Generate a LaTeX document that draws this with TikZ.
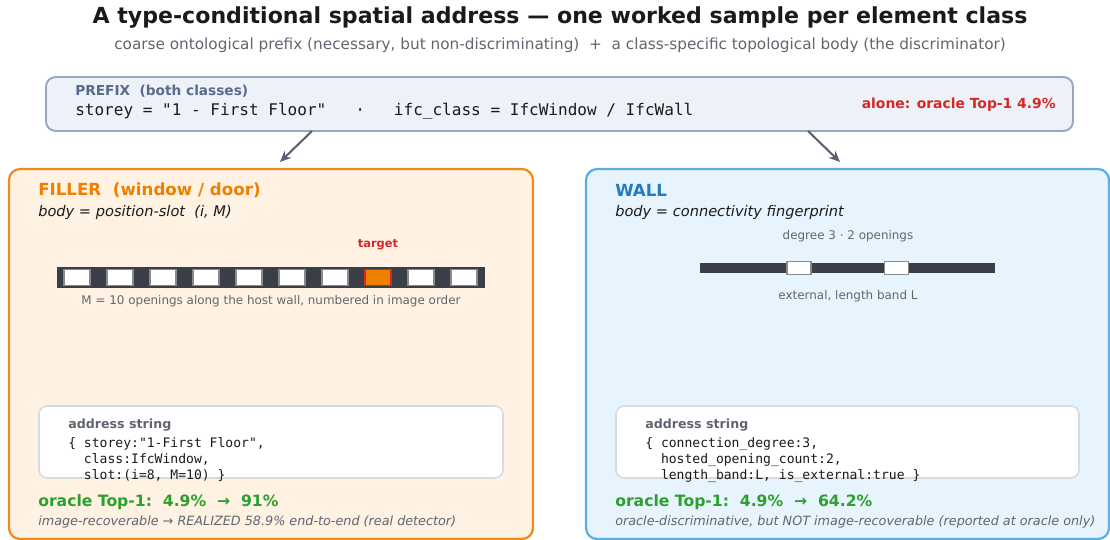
\documentclass[tikz,border=0pt]{standalone}
\usepackage{fontspec}
\setmainfont{DejaVu Sans}
\setmonofont{DejaVu Sans Mono}
\usetikzlibrary{arrows.meta}
\definecolor{inkdark}{HTML}{1A1A1A}
\definecolor{inkgray}{HTML}{5F6670}
\definecolor{prefixfill}{HTML}{EDF1F8}
\definecolor{prefixline}{HTML}{9AA6BB}
\definecolor{prefixtext}{HTML}{5A6A8A}
\definecolor{alertred}{HTML}{D62728}
\definecolor{arrowgray}{HTML}{5A6270}
\definecolor{fillerorange}{HTML}{F07F00}
\definecolor{fillerline}{HTML}{F08A1C}
\definecolor{fillerfill}{HTML}{FFF2E3}
\definecolor{wallblue}{HTML}{1F7BC4}
\definecolor{wallline}{HTML}{5AB0E4}
\definecolor{wallfill}{HTML}{E8F4FD}
\definecolor{walldark}{HTML}{3A3E46}
\definecolor{slotline}{HTML}{8A8A8A}
\definecolor{addrline}{HTML}{D5DBE3}
\definecolor{goodgreen}{HTML}{2CA02C}
\tikzset{txt/.style={inner sep=0pt, anchor=west}}
\tikzset{opening/.style={rectangle, draw=slotline, fill=white, line width=1.3pt, inner sep=0pt, minimum width=19pt, minimum height=11.5pt}}
\tikzset{ropening/.style={rectangle, draw=slotline, fill=white, line width=1pt, inner sep=0pt, minimum width=17.5pt, minimum height=9.5pt}}
\tikzset{addrbox/.style={draw=addrline, fill=white, line width=1.1pt, rounded corners=6pt}}
\tikzset{flow/.style={draw=arrowgray, line width=1.5pt, -{Stealth[length=8pt,width=7pt]}}}
\newcommand{\fs}[1]{\fontsize{#1}{1.2\dimexpr#1pt\relax}\selectfont}
\newcommand{\ind}{\phantom{xx}}

\begin{document}
\begin{tikzpicture}[x=0.72pt, y=-0.72pt]
        \useasboundingbox (0,0) rectangle (1110,540);

        % heading
        \node [txt, anchor=center, text=inkdark, font=\fs{15.9}\bfseries](title) at (560,17) {A type-conditional spatial address — one worked sample per element class};
        \node [txt, anchor=center, text=inkgray, font=\fs{11}](subtitle) at (560,45) {coarse ontological prefix (necessary, but non-discriminating)~~+~~a class-specific topological body (the discriminator)};

        % shared prefix
        \draw [fill=prefixfill, draw=prefixline, line width=1.4pt, rounded corners=7pt] (46,77) rectangle (1073,131);
        \node [txt, text=prefixtext, font=\fs{9.85}\bfseries](prefixhead) at (75,91) {PREFIX~~(both classes)};
        \node [txt, text=inkdark, font=\ttfamily\fs{11.55}](prefixline) at (75,111) {storey = "1 - First Floor"~~~·~~~ifc\_class = IfcWindow / IfcWall};
        \node [txt, anchor=east, text=alertred, font=\fs{10}\bfseries](prefixscore) at (1056,105) {alone: oracle Top-1 4.9\%};

        \coordinate (splitL) at (312,131);
        \coordinate (splitR) at (808,131);
        \coordinate (intoL) at (280,162);
        \coordinate (intoR) at (840,162);
        \draw [flow] (splitL) -- (intoL);
        \draw [flow] (splitR) -- (intoR);

        % filler panel
        \draw [fill=fillerfill, draw=fillerline, line width=1.6pt, rounded corners=8pt] (9,169) rectangle (533,539);
        \node [txt, text=fillerorange, font=\fs{12}\bfseries](fillerhead) at (38,190) {FILLER~~(window / door)};
        \node [txt, text=inkdark, font=\fs{10.5}\itshape](fillerbody) at (38,212) {body = position-slot~~(i, M)};

        \fill [walldark] (57,267) rectangle (485,288);
        \foreach \i in {1,...,7,9,10}
            \node [opening](slot\i) at ({77+43*(\i-1)},277.5) {};
        \node [opening, draw=alertred, fill=fillerorange](slot8) at (378,277.5) {};
        \node [txt, anchor=center, text=alertred, font=\fs{8.2}\bfseries](target) at (378,245) {target};
        \node [txt, anchor=center, text=inkgray, font=\fs{8.6}](slotnote) at (271,301) {M = 10 openings along the host wall, numbered in image order};

        \draw [addrbox] (39,406) rectangle (503,478);
        \node [txt, text=inkgray, font=\fs{9.1}\bfseries](fillerlabel) at (68,425) {address string};
        \node [txt, anchor=north west, align=left, text=inkdark, font=\ttfamily\fontsize{9.4}{11.5}\selectfont](fillercode) at (68,437) {\{ storey:"1-First Floor",\\\ind class:IfcWindow,\\\ind slot:(i=8, M=10) \}};

        \node [txt, text=goodgreen, font=\fs{11.25}\bfseries](fillerscore) at (38,502) {oracle Top-1:~~4.9\%~~→~~91\%};
        \node [txt, text=inkgray, font=\fs{9.2}\itshape](fillernote) at (38,522) {image-recoverable → REALIZED 58.9\% end-to-end (real detector)};

        % wall panel
        \draw [fill=wallfill, draw=wallline, line width=1.6pt, rounded corners=8pt] (586,169) rectangle (1109,539);
        \node [txt, text=wallblue, font=\fs{12}\bfseries](wallhead) at (615,190) {WALL};
        \node [txt, text=inkdark, font=\fs{10.5}\itshape](wallbody) at (615,212) {body = connectivity fingerprint};

        \node [txt, anchor=center, text=inkgray, font=\fs{8.6}](degree) at (848,236) {degree 3 · 2 openings};
        \fill [walldark] (700,263) rectangle (995,273);
        \node [ropening](hole1) at (799,268) {};
        \node [ropening](hole2) at (896.5,268) {};
        \node [txt, anchor=center, text=inkgray, font=\fs{8.6}](band) at (848,296) {external, length band L};

        \draw [addrbox] (616,406) rectangle (1079,478);
        \node [txt, text=inkgray, font=\fs{9.1}\bfseries](walllabel) at (645,425) {address string};
        \node [txt, anchor=north west, align=left, text=inkdark, font=\ttfamily\fontsize{9.4}{11.5}\selectfont](wallcode) at (645,437) {\{ connection\_degree:3,\\\ind hosted\_opening\_count:2,\\\ind length\_band:L, is\_external:true \}};

        \node [txt, text=goodgreen, font=\fs{11.25}\bfseries](wallscore) at (615,502) {oracle Top-1:~~4.9\%~~→~~64.2\%};
        \node [txt, text=inkgray, font=\fs{9.2}\itshape](wallnote) at (615,522) {oracle-discriminative, but NOT image-recoverable (reported at oracle only)};
\end{tikzpicture}
\end{document}
